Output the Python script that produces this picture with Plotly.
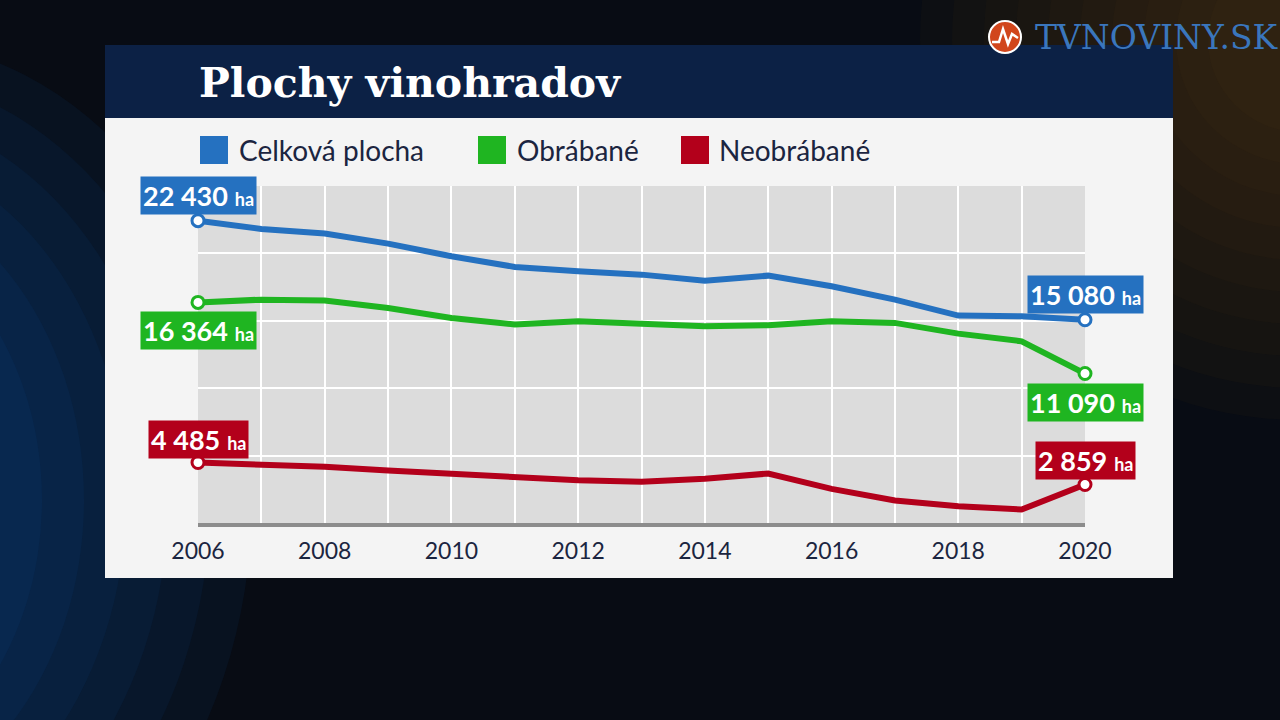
import plotly.graph_objects as go

years = list(range(2006, 2021))
celkova = [22430, 21815, 21470, 20725, 19785, 18995, 18670, 18425, 17980, 18350, 17560, 16570, 15385, 15335, 15080]
obrabane = [16364, 16570, 16500, 15955, 15215, 14720, 14965, 14795, 14595, 14670, 14965, 14845, 14050, 13480, 11090]
neobrabane = [4485, 4340, 4165, 3890, 3645, 3350, 3175, 3055, 3275, 3670, 2535, 1670, 1245, 1000, 2859]
series_names = ["Celková plocha", "Obrábané", "Neobrábané"]
tick_years = [2006, 2008, 2010, 2012, 2014, 2016, 2018, 2020]
title_text = "Plochy vinohradov"

BLUE = "#2571c0"
GREEN = "#1fb521"
RED = "#b3001b"
NAVY = "#0c2145"
TEXT = "#1b2540"

W, H = 1280, 720
L, R, T, B = 198, 1085, 186, 523  # plot area in pixels


def px(x):
    return (x - L) / (R - L)


def py(y):
    return (B - y) / (B - T)


fig = go.Figure()

series = [(celkova, BLUE), (obrabane, GREEN), (neobrabane, RED)]
for vals, col in series:
    fig.add_trace(go.Scatter(
        x=years, y=vals, mode="lines",
        line=dict(color=col, width=6),
        hoverinfo="skip", cliponaxis=False, showlegend=False))
    fig.add_trace(go.Scatter(
        x=[years[0], years[-1]], y=[vals[0], vals[-1]], mode="markers",
        marker=dict(size=12, color="white", line=dict(color=col, width=3)),
        hoverinfo="skip", cliponaxis=False, showlegend=False))


def fmt(v):
    return f"{v:,}".replace(",", " ")


label_shift = {  # (first, last) vertical shift in px
    0: (25, 25),
    1: (-28, -29),
    2: (23, 24),
}
annotations = []
for i, (vals, col) in enumerate(series):
    for j, idx in enumerate([0, -1]):
        annotations.append(dict(
            x=years[idx], y=vals[idx], xref="x", yref="y",
            text=f"<b>{fmt(vals[idx])}</b> <span style='font-size:18px'><b>ha</b></span>",
            showarrow=False, yshift=label_shift[i][j],
            font=dict(family="Lato", size=27, color="white"),
            bgcolor=col, borderpad=2,
        ))

# Title
annotations.append(dict(
    x=px(197), y=py(83), xref="paper", yref="paper",
    text=f"<b>{title_text}</b>", showarrow=False, xanchor="left", yanchor="middle",
    font=dict(family="DejaVu Serif", size=41, color="white")))

# Legend
leg_x = [(200, 237), (478, 515), (681, 717)]
shapes = []

# Background glows
for k in range(12):
    r = 460 - k * 35
    shapes.append(dict(type="circle", xref="paper", yref="paper",
                       x0=px(-300 - r * 0.4), x1=px(-300 + r * 1.2),
                       y0=py(500 + r), y1=py(500 - r),
                       fillcolor="#0c5fae", opacity=0.08, line=dict(width=0), layer="below"))
for k in range(10):
    r = 380 - k * 32
    shapes.append(dict(type="circle", xref="paper", yref="paper",
                       x0=px(1300 - r), x1=px(1300 + r),
                       y0=py(40 + r), y1=py(40 - r),
                       fillcolor="#6a3d12", opacity=0.06, line=dict(width=0), layer="below"))

# Panel and title bar
shapes.append(dict(type="rect", xref="paper", yref="paper",
                   x0=px(105), x1=px(1173), y0=py(578), y1=py(118),
                   fillcolor="#f4f4f4", line=dict(width=0), layer="below"))
shapes.append(dict(type="rect", xref="paper", yref="paper",
                   x0=px(105), x1=px(1173), y0=py(118), y1=py(45),
                   fillcolor=NAVY, line=dict(width=0), layer="below"))
shapes.append(dict(type="rect", xref="paper", yref="paper",
                   x0=0, x1=1, y0=0, y1=1,
                   fillcolor="#dcdcdc", line=dict(width=0), layer="below"))

for (sx, tx), name, (_, col) in zip(leg_x, series_names, series):
    shapes.append(dict(type="rect", xref="paper", yref="paper",
                       x0=px(sx), x1=px(sx + 28), y0=py(164), y1=py(136),
                       fillcolor=col, line=dict(width=0)))
    annotations.append(dict(
        x=px(tx), y=py(150), xref="paper", yref="paper", text=name,
        showarrow=False, xanchor="left", yanchor="middle",
        font=dict(family="Lato", size=28, color=TEXT)))

# Logo
shapes.append(dict(type="circle", xref="paper", yref="paper",
                   x0=px(989), x1=px(1021), y0=py(53), y1=py(21),
                   fillcolor="#d1461c", line=dict(color="white", width=2)))
shapes.append(dict(type="path", xref="paper", yref="paper",
                   path=f"M {px(992)} {py(42)} L {px(999)} {py(42)} L {px(1003)} {py(29)} "
                        f"L {px(1008)} {py(44)} L {px(1012)} {py(34)} L {px(1018)} {py(38)}",
                   line=dict(color="white", width=2.5)))
annotations.append(dict(
    x=px(1033), y=py(38), xref="paper", yref="paper", text="TVNOVINY.SK",
    showarrow=False, xanchor="left", yanchor="middle",
    font=dict(family="DejaVu Serif", size=33, color="#3a76bd")))

fig.update_layout(
    width=W, height=H, autosize=False,
    margin=dict(l=L, r=W - R, t=T, b=H - B, pad=0),
    paper_bgcolor="#080c14",
    plot_bgcolor="#dcdcdc",
    showlegend=False,
    shapes=shapes,
    annotations=annotations,
    xaxis=dict(
        range=[2006, 2020], tickvals=tick_years, ticktext=[str(y) for y in tick_years],
        showgrid=True, gridcolor="white", gridwidth=2,
        minor=dict(dtick=1, tick0=2006, showgrid=True, gridcolor="white", gridwidth=2),
        showline=True, linecolor="#8c8c8c", linewidth=4,
        ticks="", ticklabelstandoff=4, zeroline=False,
        tickfont=dict(family="Lato", size=23, color=TEXT),
        fixedrange=True),
    yaxis=dict(
        range=[0, 25000], dtick=5000, showgrid=True, gridcolor="white", gridwidth=2,
        showticklabels=False, zeroline=False, fixedrange=True),
)

fig.write_html(
    "out.html",
    config={"displayModeBar": False},
    post_script="document.body.style.margin='0';document.body.style.padding='0';"
                "document.body.style.overflow='hidden';",
)
